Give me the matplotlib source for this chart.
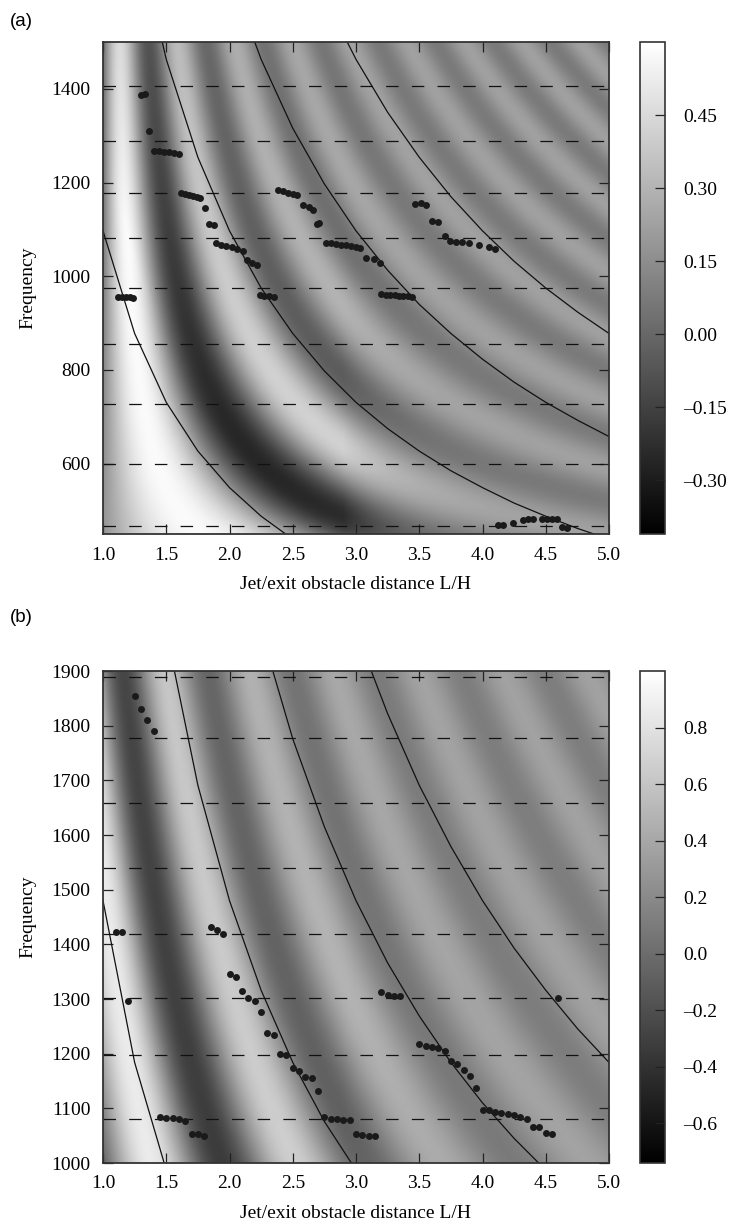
import numpy as np
import matplotlib
matplotlib.use('Agg')
import matplotlib.pyplot as plt

plt.rcParams['font.family'] = ['Liberation Serif', 'DejaVu Serif']
plt.rcParams['lines.scale_dashes'] = False

# ---------------- panel (a) ----------------
a_xlim = (1.0, 5.0)
a_ylim = (450, 1500)
a_yticks = [600, 800, 1000, 1200, 1400]
a_cbar_ticks = [-0.30, -0.15, 0.00, 0.15, 0.30, 0.45]
a_vrange = (-0.41, 0.60)
a_dash_f = [467, 599, 727, 855, 974, 1081, 1177, 1289, 1407]

# feedback-mode curves (sampled every 0.25 in L)
a_mode1_L = [1.0, 1.25, 1.5, 1.75, 2.0, 2.25, 2.5]
a_mode1_f = [1097, 878, 731, 627, 549, 488, 439]
a_mode2_L = [1.25, 1.5, 1.75, 2.0, 2.25, 2.5, 2.75, 3.0, 3.25, 3.5, 3.75, 4.0, 4.25, 4.5, 4.75, 5.0]
a_mode2_f = [1755, 1463, 1254, 1097, 975, 878, 798, 731, 675, 627, 585, 549, 516, 488, 462, 439]
a_mode3_L = [2.0, 2.25, 2.5, 2.75, 3.0, 3.25, 3.5, 3.75, 4.0, 4.25, 4.5, 4.75, 5.0]
a_mode3_f = [1646, 1463, 1316, 1197, 1097, 1013, 940, 878, 823, 774, 731, 693, 658]
a_mode4_L = [2.75, 3.0, 3.25, 3.5, 3.75, 4.0, 4.25, 4.5, 4.75, 5.0]
a_mode4_f = [1596, 1463, 1350, 1254, 1170, 1097, 1032, 975, 924, 878]

# measured peaks
a_pts_L = [1.12, 1.15, 1.18, 1.21, 1.24, 1.30, 1.33, 1.36,
           1.40, 1.44, 1.48, 1.52, 1.56, 1.60,
           1.62, 1.65, 1.68, 1.71, 1.74, 1.77, 1.81, 1.84, 1.88,
           1.89, 1.93, 1.97, 2.02, 2.06, 2.11, 2.14, 2.18, 2.22,
           2.24, 2.27, 2.31, 2.35,
           2.38, 2.42, 2.46, 2.50, 2.53, 2.58, 2.63, 2.66, 2.69, 2.71,
           2.76, 2.80, 2.84, 2.88, 2.92, 2.96, 3.00, 3.03, 3.08, 3.14, 3.19,
           3.20, 3.235, 3.27, 3.305, 3.34, 3.375, 3.41, 3.44,
           3.47, 3.51, 3.55, 3.60, 3.65, 3.70, 3.74, 3.79, 3.84, 3.89, 3.97, 4.05, 4.10,
           4.12, 4.16, 4.24, 4.32, 4.36, 4.40, 4.47, 4.51, 4.55, 4.59, 4.63, 4.67]
a_pts_f = [956, 956, 955, 955, 954, 1386, 1388, 1311,
           1268, 1267, 1266, 1265, 1264, 1262,
           1177, 1175, 1173, 1172, 1170, 1167, 1146, 1112, 1109,
           1070, 1067, 1065, 1062, 1058, 1053, 1035, 1029, 1024,
           959, 958, 957, 955,
           1184, 1181, 1178, 1176, 1173, 1152, 1147, 1141, 1112, 1113,
           1072, 1070, 1069, 1067, 1066, 1064, 1062, 1060, 1039, 1036, 1028,
           962, 961, 960, 959, 958, 958, 957, 956,
           1155, 1157, 1153, 1117, 1115, 1087, 1075, 1074, 1073, 1070, 1067, 1062, 1058,
           469, 469, 474, 480, 481, 483, 483, 483, 483, 482, 466, 463]

# background field model:
# a, b, c, phase0, mean, amp_far, amp_near, fL0, fL_scale, L_on, L_scale
a_field = [0.0018, -0.00186, -0.5, 0.21, 0.15, 0.075, 0.43, 1300, 900, 2.9, 0.5]

# ---------------- panel (b) ----------------
b_xlim = (1.0, 5.0)
b_ylim = (1000, 1900)
b_yticks = [1000, 1100, 1200, 1300, 1400, 1500, 1600, 1700, 1800, 1900]
b_cbar_ticks = [-0.6, -0.4, -0.2, 0.0, 0.2, 0.4, 0.6, 0.8]
b_vrange = (-0.74, 1.0)
b_dash_f = [1080, 1197, 1302, 1418, 1539, 1658, 1777, 1889]

b_mode1_L = [1.0, 1.25, 1.5]
b_mode1_f = [1480, 1184, 987]
b_mode2_L = [1.5, 1.75, 2.0, 2.25, 2.5, 2.75, 3.0]
b_mode2_f = [1973, 1691, 1480, 1316, 1184, 1076, 987]
b_mode3_L = [2.25, 2.5, 2.75, 3.0, 3.25, 3.5, 3.75, 4.0, 4.25, 4.5]
b_mode3_f = [1973, 1776, 1615, 1480, 1366, 1269, 1184, 1110, 1045, 987]
b_mode4_L = [3.0, 3.25, 3.5, 3.75, 4.0, 4.25, 4.5, 4.75, 5.0]
b_mode4_f = [1973, 1822, 1691, 1579, 1480, 1393, 1316, 1246, 1184]

b_pts_L = [1.10, 1.15, 1.20, 1.25, 1.30, 1.35, 1.40,
           1.45, 1.50, 1.55, 1.60, 1.65, 1.70, 1.75, 1.80,
           1.85, 1.90, 1.95, 2.00, 2.05, 2.10, 2.15, 2.20, 2.25,
           2.30, 2.35, 2.40, 2.45, 2.50, 2.55, 2.60, 2.65, 2.70,
           2.75, 2.80, 2.85, 2.90, 2.95, 3.00, 3.05, 3.10, 3.15,
           3.20, 3.25, 3.30, 3.35,
           3.50, 3.55, 3.60, 3.65, 3.70, 3.75, 3.80, 3.85, 3.90, 3.95,
           4.00, 4.05, 4.10, 4.15, 4.20, 4.25, 4.30, 4.35,
           4.40, 4.45, 4.50, 4.55, 4.60]
b_pts_f = [1423, 1423, 1297, 1854, 1830, 1810, 1791,
           1085, 1083, 1083, 1080, 1077, 1053, 1053, 1049,
           1432, 1427, 1419, 1346, 1341, 1315, 1302, 1297, 1276,
           1237, 1234, 1200, 1197, 1173, 1168, 1158, 1156, 1132,
           1084, 1081, 1080, 1079, 1078, 1053, 1051, 1049, 1049,
           1312, 1307, 1305, 1305,
           1217, 1214, 1212, 1210, 1205, 1186, 1181, 1170, 1160, 1138,
           1097, 1097, 1094, 1092, 1089, 1087, 1085, 1080,
           1066, 1066, 1055, 1053, 1302]

b_field = [0.000707, -0.00007, 0.158, 1.62, 0.24, 0.12, 0.62, 1800, 1500, 2.9, 1.0]


def background(xlim, ylim, prm):
    a, b, c, ph0, mean, amp_far, amp_near, fl0, fls, l_on, l_sc = prm
    L = np.linspace(xlim[0], xlim[1], 500)
    f = np.linspace(ylim[0], ylim[1], 500)
    LL, FF = np.meshgrid(L, f)
    phase = a * FF * LL + b * FF + c * LL
    env = np.exp(-np.clip(FF * LL - fl0, 0, None) / fls) * np.exp(-np.clip(LL - l_on, 0, None) / l_sc)
    env = amp_far + (amp_near - amp_far) * env
    return mean - env * np.cos(2 * np.pi * (phase - ph0))


def panel(ax, cax, xlim, ylim, field, vrange, dash_f, modes, pts_L, pts_f,
          yticks, cticks, cfmt):
    z = background(xlim, ylim, field)
    im = ax.imshow(z, extent=[xlim[0], xlim[1], ylim[0], ylim[1]], origin='lower',
                   aspect='auto', cmap='gray', vmin=vrange[0], vmax=vrange[1],
                   interpolation='bilinear')
    for fd in dash_f:
        ax.axhline(fd, color='#111111', lw=0.9, dashes=(9, 9.5))
    for mL, mf in modes:
        ax.plot(mL, mf, color='#111111', lw=0.9)
    ax.plot(pts_L, pts_f, 'o', color='#1a1a1a', ms=5, mec='none', zorder=5)
    ax.set_xlim(*xlim)
    ax.set_ylim(*ylim)
    ax.set_xticks(np.arange(1.0, 5.01, 0.5))
    ax.set_xticklabels(['%.1f' % v for v in np.arange(1.0, 5.01, 0.5)])
    ax.set_yticks(yticks)
    ax.tick_params(direction='in', top=True, right=True, length=7, width=0.9,
                   labelsize=14, pad=9, color='#222222')
    for s in ax.spines.values():
        s.set_linewidth(1.3)
        s.set_color('#333333')
    ax.set_xlabel('Jet/exit obstacle distance L/H', fontsize=14, labelpad=9)
    ax.set_ylabel('Frequency', fontsize=14, labelpad=11)

    cb = plt.colorbar(im, cax=cax)
    cb.set_ticks(cticks)
    cb.set_ticklabels([cfmt % v if v >= 0 else '\u2013' + cfmt % (-v) for v in cticks])
    cb.ax.tick_params(direction='in', length=7, width=0.9, labelsize=14, pad=13,
                      color='#222222')
    cb.outline.set_linewidth(1.2)
    cb.outline.set_edgecolor('#333333')


fig = plt.figure(figsize=(7.34, 12.28), dpi=100)
W, H = 734.0, 1228.0
ax1 = fig.add_axes([103 / W, 1 - 534 / H, 506 / W, 492 / H])
cax1 = fig.add_axes([640 / W, 1 - 534 / H, 25 / W, 492 / H])
ax2 = fig.add_axes([103 / W, 1 - 1163 / H, 506 / W, 492 / H])
cax2 = fig.add_axes([640 / W, 1 - 1163 / H, 25 / W, 492 / H])

panel(ax1, cax1, a_xlim, a_ylim, a_field, a_vrange, a_dash_f,
      [(a_mode1_L, a_mode1_f), (a_mode2_L, a_mode2_f), (a_mode3_L, a_mode3_f), (a_mode4_L, a_mode4_f)],
      a_pts_L, a_pts_f, a_yticks, a_cbar_ticks, '%.2f')
panel(ax2, cax2, b_xlim, b_ylim, b_field, b_vrange, b_dash_f,
      [(b_mode1_L, b_mode1_f), (b_mode2_L, b_mode2_f), (b_mode3_L, b_mode3_f), (b_mode4_L, b_mode4_f)],
      b_pts_L, b_pts_f, b_yticks, b_cbar_ticks, '%.1f')

fig.text(10 / W, 1 - 21 / H, '(a)', family='Liberation Sans', fontsize=13.5, va='center')
fig.text(10 / W, 1 - 617 / H, '(b)', family='Liberation Sans', fontsize=13.5, va='center')

plt.savefig('out.png', dpi=100)
